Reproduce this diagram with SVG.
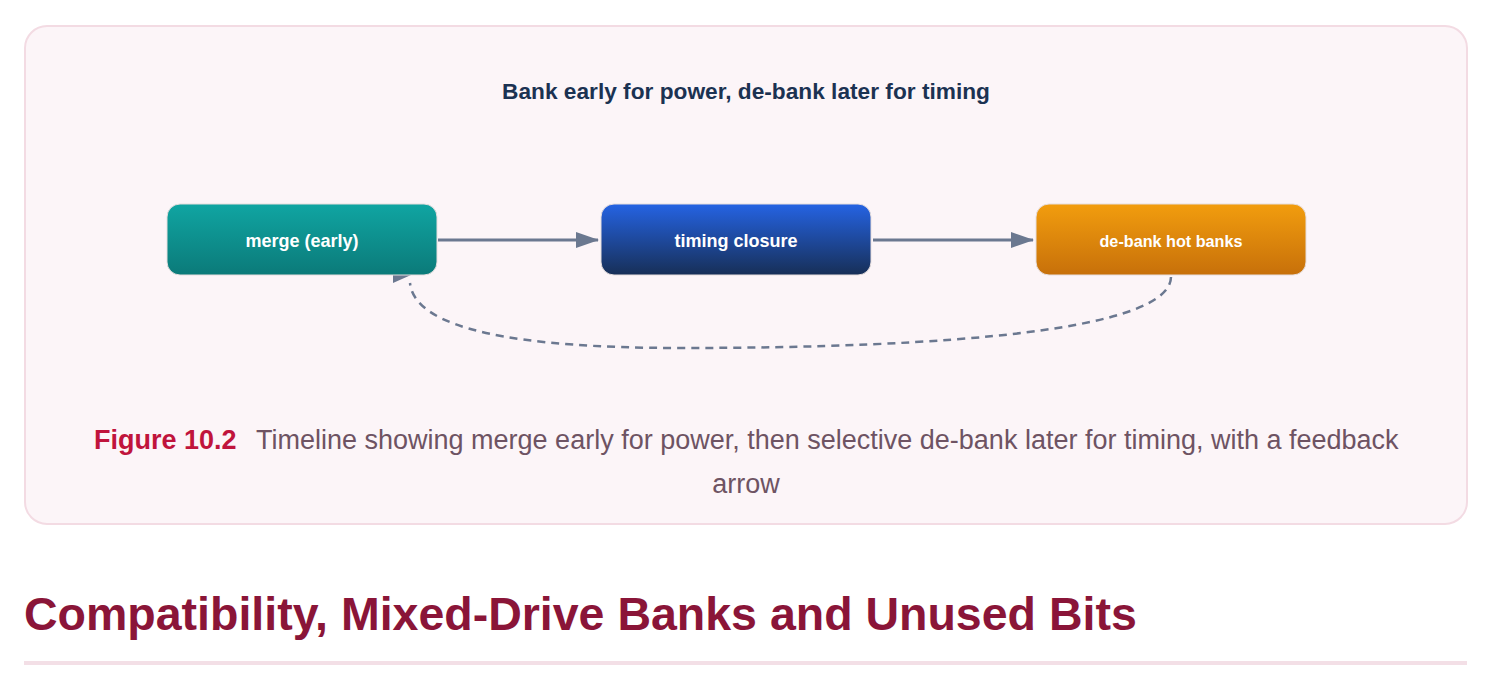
<svg xmlns="http://www.w3.org/2000/svg" width="1494" height="690" viewBox="0 0 1494 690">
<style>
.nodetxt{font-family:"Liberation Sans",Arial,sans-serif;font-weight:bold;fill:#ffffff;text-anchor:middle}
.edge{stroke:#6b7890;stroke-width:2.8;fill:none}
.dash{stroke:#6b7890;stroke-width:2.5;fill:none;stroke-dasharray:8 6}
.nodebox{stroke:#e6dede;stroke-width:1}
</style>
<defs>
<linearGradient id="gTeal" x1="0" y1="0" x2="0" y2="1"><stop offset="0" stop-color="#10a5a2"/><stop offset="1" stop-color="#0b7a79"/></linearGradient>
<linearGradient id="gBlue" x1="0" y1="0" x2="0" y2="1"><stop offset="0" stop-color="#2563e3"/><stop offset="1" stop-color="#172f57"/></linearGradient>
<linearGradient id="gOrange" x1="0" y1="0" x2="0" y2="1"><stop offset="0" stop-color="#f29d0e"/><stop offset="1" stop-color="#c7700a"/></linearGradient>
<marker id="arr" markerWidth="24" markerHeight="18" refX="22" refY="8" orient="auto" markerUnits="userSpaceOnUse"><path d="M0,0 L23,8 L0,16 Z" fill="#6b7890"/></marker>
</defs>
<rect x="0" y="0" width="1494" height="690" fill="#ffffff"/>
<rect id="panel" x="25" y="26" width="1442" height="498" rx="22" fill="#fcf5f8" stroke="#f3dbe3" stroke-width="2"/>
<text x="746" y="99" font-family="Liberation Sans,Arial,sans-serif" font-weight="bold" font-size="22.7" fill="#1b3252" text-anchor="middle">Bank early for power, de-bank later for timing</text>
<g id="connectors">
<line class="edge" x1="438" y1="240" x2="598" y2="240" marker-end="url(#arr)"/>
<line class="edge" x1="873" y1="240" x2="1033" y2="240" marker-end="url(#arr)"/>
<path class="dash" d="M1171,277 C1170,330 950,348 680,348 C520,348 415,330 410,283"/>
<path d="M393,269 L411,275 L393,283 Z" fill="#6b7890"/>
</g>
<g id="node-merge">
<rect class="nodebox" x="167" y="204" width="270" height="71" rx="13" fill="url(#gTeal)"/>
<text class="nodetxt" x="302" y="247" font-size="18">merge (early)</text>
</g>
<g id="node-timing">
<rect class="nodebox" x="601" y="204" width="270" height="71" rx="13" fill="url(#gBlue)"/>
<text class="nodetxt" x="736" y="247" font-size="18">timing closure</text>
</g>
<g id="node-debank">
<rect class="nodebox" x="1036" y="204" width="270" height="71" rx="13" fill="url(#gOrange)"/>
<text class="nodetxt" x="1171" y="247" font-size="16.2">de-bank hot banks</text>
</g>
<g id="caption" font-family="Liberation Sans,Arial,sans-serif" font-size="27">
<text x="94" y="449" font-weight="bold" fill="#c0143c">Figure 10.2</text>
<text x="256" y="449" fill="#6e5363">Timeline showing merge early for power, then selective de-bank later for timing, with a feedback</text>
<text x="746" y="493" fill="#6e5363" text-anchor="middle">arrow</text>
</g>
<text x="24" y="630" font-family="Liberation Sans,Arial,sans-serif" font-weight="bold" font-size="46.5" fill="#8a1538">Compatibility, Mixed-Drive Banks and Unused Bits</text>
<rect x="24" y="661" width="1443" height="4" fill="#f3dfe6"/>
</svg>
